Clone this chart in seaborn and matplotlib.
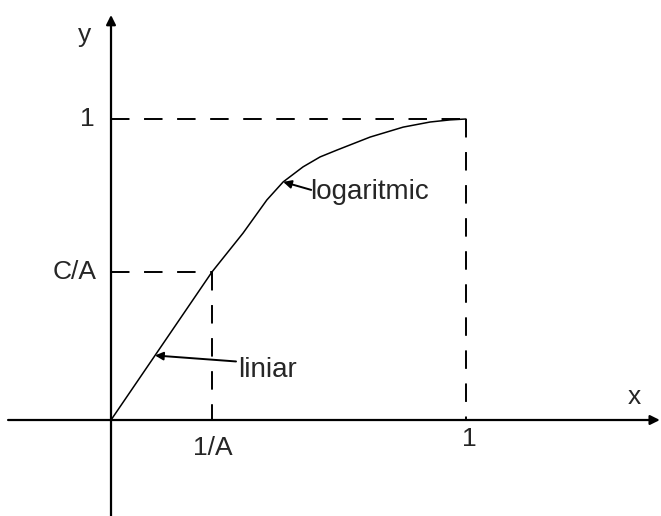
import matplotlib
matplotlib.use("Agg")
import matplotlib.pyplot as plt
import seaborn as sns
import numpy as np

# ---- data ----
x_curve = [0.0, 0.2845, 0.372, 0.439, 0.485, 0.541, 0.589, 0.637, 0.730, 0.823, 0.899, 0.955, 1.0]
y_curve = [0.0, 0.492, 0.621, 0.731, 0.791, 0.841, 0.874, 0.897, 0.940, 0.973, 0.990, 0.997, 1.0]
x_knee = 0.2845          # 1/A
y_knee = 0.492           # C/A
x_tick_labels = ["1/A", "1"]
y_tick_labels = ["C/A", "1"]
annot_labels = ["logaritmic", "liniar"]
annot_x = [0.485, 0.124]  # arrow tips on curve

sns.set_theme(style="white")
plt.rcParams['font.family'] = ['Liberation Sans', 'DejaVu Sans']

fig = plt.figure(figsize=(6.61, 5.16), dpi=100)
ax = fig.add_axes([0, 0, 1, 1])
ax.set_xlim(-0.3127, 1.5493)
ax.set_ylim(-0.3189, 1.3953)
ax.axis("off")

# axes with arrows
ax.annotate("", xy=(1.546, 0), xytext=(-0.29, 0),
            arrowprops=dict(arrowstyle="-|>", color="black", lw=1.6,
                            mutation_scale=14, shrinkA=0, shrinkB=0))
ax.annotate("", xy=(0, 1.3455), xytext=(0, -0.3189),
            arrowprops=dict(arrowstyle="-|>", color="black", lw=1.6,
                            mutation_scale=14, shrinkA=0, shrinkB=0))

# dashed guide lines
dash = (0, (9.5, 7.5))
ax.plot([0, 1], [1, 1], color="black", lw=1.4, linestyle=dash)
ax.plot([1, 1], [1, 0], color="black", lw=1.4, linestyle=dash)
ax.plot([0, x_knee], [y_knee, y_knee], color="black", lw=1.4, linestyle=dash)
ax.plot([x_knee, x_knee], [y_knee, 0], color="black", lw=1.4, linestyle=dash)

# curve
sns.lineplot(x=x_curve, y=y_curve, color="black", lw=1.1, ax=ax, legend=False)

fs = 19
# tick labels
ax.annotate(x_tick_labels[0], xy=(x_knee, 0), xytext=(1, -28), textcoords="offset pixels",
            ha="center", va="center", fontsize=fs)
ax.annotate(x_tick_labels[1], xy=(1, 0), xytext=(3, -19), textcoords="offset pixels",
            ha="center", va="center", fontsize=fs)
ax.annotate(y_tick_labels[0], xy=(0, y_knee), xytext=(-14, 0), textcoords="offset pixels",
            ha="right", va="center", fontsize=fs)
ax.annotate(y_tick_labels[1], xy=(0, 1), xytext=(-24, 0), textcoords="offset pixels",
            ha="center", va="center", fontsize=fs)

# axis labels
ax.annotate("x", xy=(1.546, 0), xytext=(-26, 23), textcoords="offset pixels",
            ha="center", va="center", fontsize=fs)
ax.annotate("y", xy=(0, 1.3455), xytext=(-26, -20), textcoords="offset pixels",
            ha="center", va="center", fontsize=fs)

# annotations with arrows
slope = y_knee / x_knee
tip_log = (annot_x[0], float(np.interp(annot_x[0], x_curve, y_curve)))
tip_lin = (annot_x[1], annot_x[1] * slope)
ax.annotate("", xy=tip_log, xytext=(28, -8), textcoords="offset pixels",
            arrowprops=dict(arrowstyle="-|>", color="black", lw=1.4,
                            mutation_scale=12, shrinkA=0, shrinkB=0))
ax.annotate(annot_labels[0], xy=tip_log, xytext=(27, -17), textcoords="offset pixels",
            ha="left", va="baseline", fontsize=fs + 1)
ax.annotate("", xy=tip_lin, xytext=(81, -6), textcoords="offset pixels",
            arrowprops=dict(arrowstyle="-|>", color="black", lw=1.4,
                            mutation_scale=12, shrinkA=0, shrinkB=0))
ax.annotate(annot_labels[1], xy=tip_lin, xytext=(83, -22), textcoords="offset pixels",
            ha="left", va="baseline", fontsize=fs + 1)

fig.savefig("out.png", dpi=100)
